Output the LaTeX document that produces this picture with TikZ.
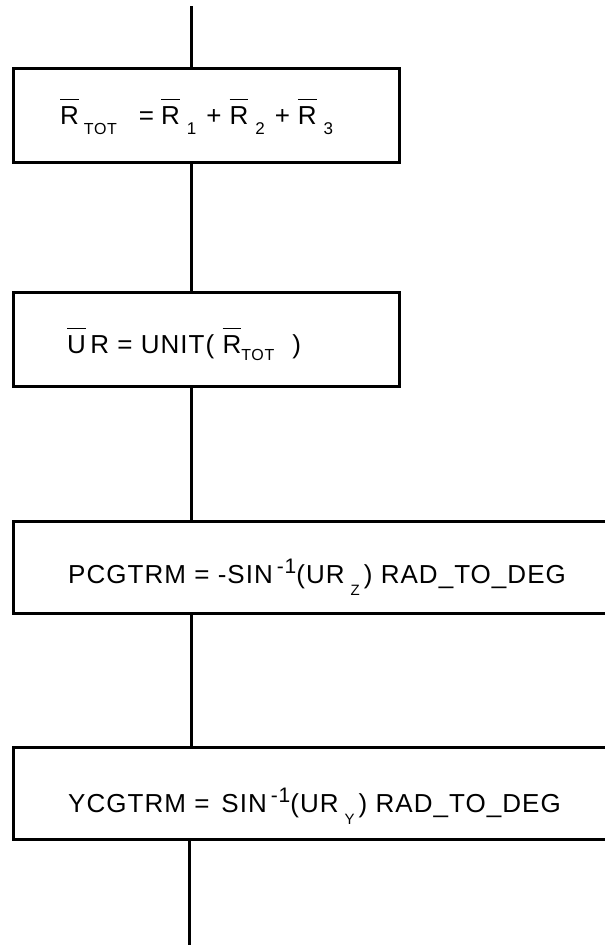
\documentclass[tikz,border=0pt]{standalone}
\usepackage{fontspec}
\setmainfont{Liberation Sans}[LetterSpace=4]
\usetikzlibrary{positioning}

\newcommand{\vbar}[1]{\setbox0\hbox{#1}\rlap{\raisebox{24pt}{\rule{\wd0}{1.5pt}}}\box0}
\newcommand{\lsub}[3][15]{\raisebox{-#2}{\fontsize{#1}{#1}\selectfont #3}}
\newcommand{\usup}[1]{\raisebox{10pt}{\fontsize{21}{21}\selectfont #1}}

\begin{document}
\begin{tikzpicture}[x=1pt,y=-1pt,
  stepbox/.style={draw, line width=3pt, inner sep=0pt, minimum height=94pt},
  flow/.style={line width=3pt},
  eqn/.style={anchor=base west, inner sep=0pt, font=\fontsize{26}{30}\selectfont}]
\useasboundingbox (0,0) rectangle (605,945);
\clip (0,0) rectangle (605,945);
% steps
\node[stepbox, minimum width=386pt] (rtot) at (206,115) {};
\node[stepbox, minimum width=386pt] (unit) at (206,339) {};
\node[stepbox, minimum width=610pt, minimum height=92pt] (pcg) at (318,567) {};
\node[stepbox, minimum width=610pt, minimum height=92pt] (ycg) at (318,793) {};
% formulas
\node[eqn] (rtottxt) at (60,124) {\vbar{R}\hspace{5pt}\lsub[16]{10pt}{TOT}\hspace{22pt}=\hspace{7pt}\vbar{R}\hspace{7pt}\lsub[17]{10pt}{1}\hspace{10pt}+\hspace{8pt}\vbar{R}\hspace{7pt}\lsub[17]{10pt}{2}\hspace{10pt}+\hspace{8pt}\vbar{R}\hspace{7pt}\lsub[17]{10pt}{3}};
\node[eqn] (unittxt) at (67,353) {\vbar{U}\,R = UNIT( \vbar{R}\lsub[16]{7pt}{TOT}\hspace{18pt})};
\node[eqn] (pcgtxt) at (68,583) {PCGTRM = -SIN\hspace{4pt}\usup{-1}(UR\hspace{6pt}\lsub{12pt}{Z}\hspace{4pt}) RAD\_TO\_DEG};
\node[eqn] (ycgtxt) at (68,812) {YCGTRM =\hspace{12pt}SIN\hspace{4pt}\usup{-1}(UR\hspace{6pt}\lsub{12pt}{Y}\hspace{4pt}) RAD\_TO\_DEG};
% flow lines
\coordinate (top) at (191,6);
\coordinate (bot) at (189,945);
\draw[flow] (top) -- (top |- rtot.north);
\draw[flow] (rtot.south -| top) -- (unit.north -| top);
\draw[flow] (unit.south -| top) -- (pcg.north -| top);
\draw[flow] (pcg.south -| top) -- (ycg.north -| top);
\draw[flow] (ycg.south -| bot) -- (bot);
\end{tikzpicture}
\end{document}
